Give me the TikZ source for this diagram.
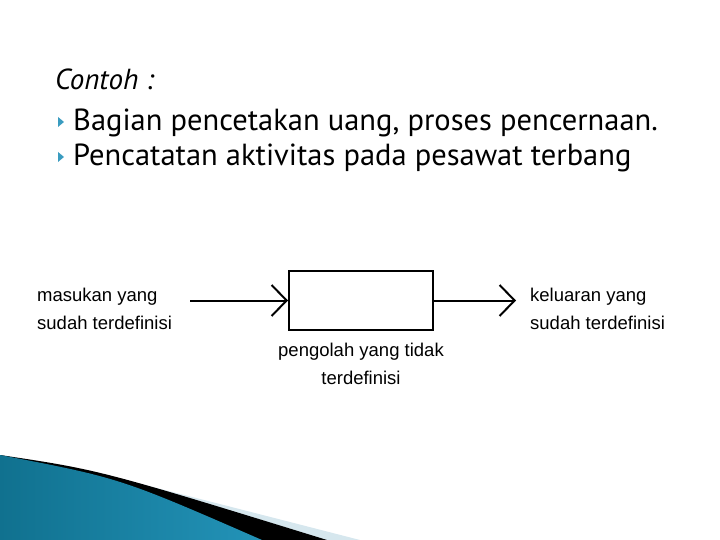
\documentclass[tikz,border=0pt]{standalone}
\usepackage{fontspec}
\setmainfont{PT Sans}
\newfontfamily\arialf{Liberation Sans}
\usetikzlibrary{arrows.meta,positioning}
\definecolor{bultteal}{HTML}{3A9CC0}
\definecolor{tealdark}{HTML}{10718F}
\definecolor{teallight}{HTML}{52BCDF}
\definecolor{tealmid}{HTML}{2393B8}
\definecolor{stripe}{HTML}{D6E7EE}
\begin{document}
\begin{tikzpicture}[x=1pt,y=-1pt,
  slide/.style={font=\fontsize{30.5}{36}\selectfont,inner sep=0pt,anchor=base west},
  lbl/.style={font=\arialf\fontsize{18.5}{28}\selectfont,inner sep=0pt},
  flow/.style={line width=2pt,-{Straight Barb[length=15pt,width=31pt,line width=2pt]}}]
\useasboundingbox (0,0) rectangle (720,540);
% heading and bullets
\node[slide,font=\itshape\fontsize{29}{34}\selectfont] (head) at (55,90) {Contoh :};
\foreach \y in {122,157}
  \fill[bultteal] (58,\y-5)--(64,\y)--(58,\y+5)--cycle;
\node[slide] (itema) at (73,131) {Bagian pencetakan uang, proses pencernaan.};
\node[slide] (itemb) at (73,166) {Pencatatan aktivitas pada pesawat terbang};
% black box
\node[draw,line width=2pt,minimum width=144pt,minimum height=59pt,inner sep=0pt] (proc) at (361,300.5) {};
\coordinate (in) at (190,300.5);
\coordinate (out) at (516,300.5);
\draw[flow] (in) -- (proc.west);
\draw[flow] (proc.east) -- (out);
\node[lbl,align=left,anchor=north west] (inlbl) at (37,288) {masukan yang\\sudah terdefinisi};
\node[lbl,align=left,anchor=north west] (outlbl) at (530,288) {keluaran yang\\sudah terdefinisi};
\node[lbl,align=center,anchor=north] (proclbl) at (361,343) {pengolah yang tidak\\terdefinisi};
% corner decoration
\fill[stripe] (0,455) .. controls (80,468) .. (360,540)--(0,540)--cycle;
\fill[black] (0,455) .. controls (100,470) .. (327,540)--(0,540)--cycle;
\shade[left color=tealdark,middle color=teallight,right color=tealmid] (0,455) .. controls (120,478) .. (262,540)--(0,540)--cycle;
\end{tikzpicture}
\end{document}
